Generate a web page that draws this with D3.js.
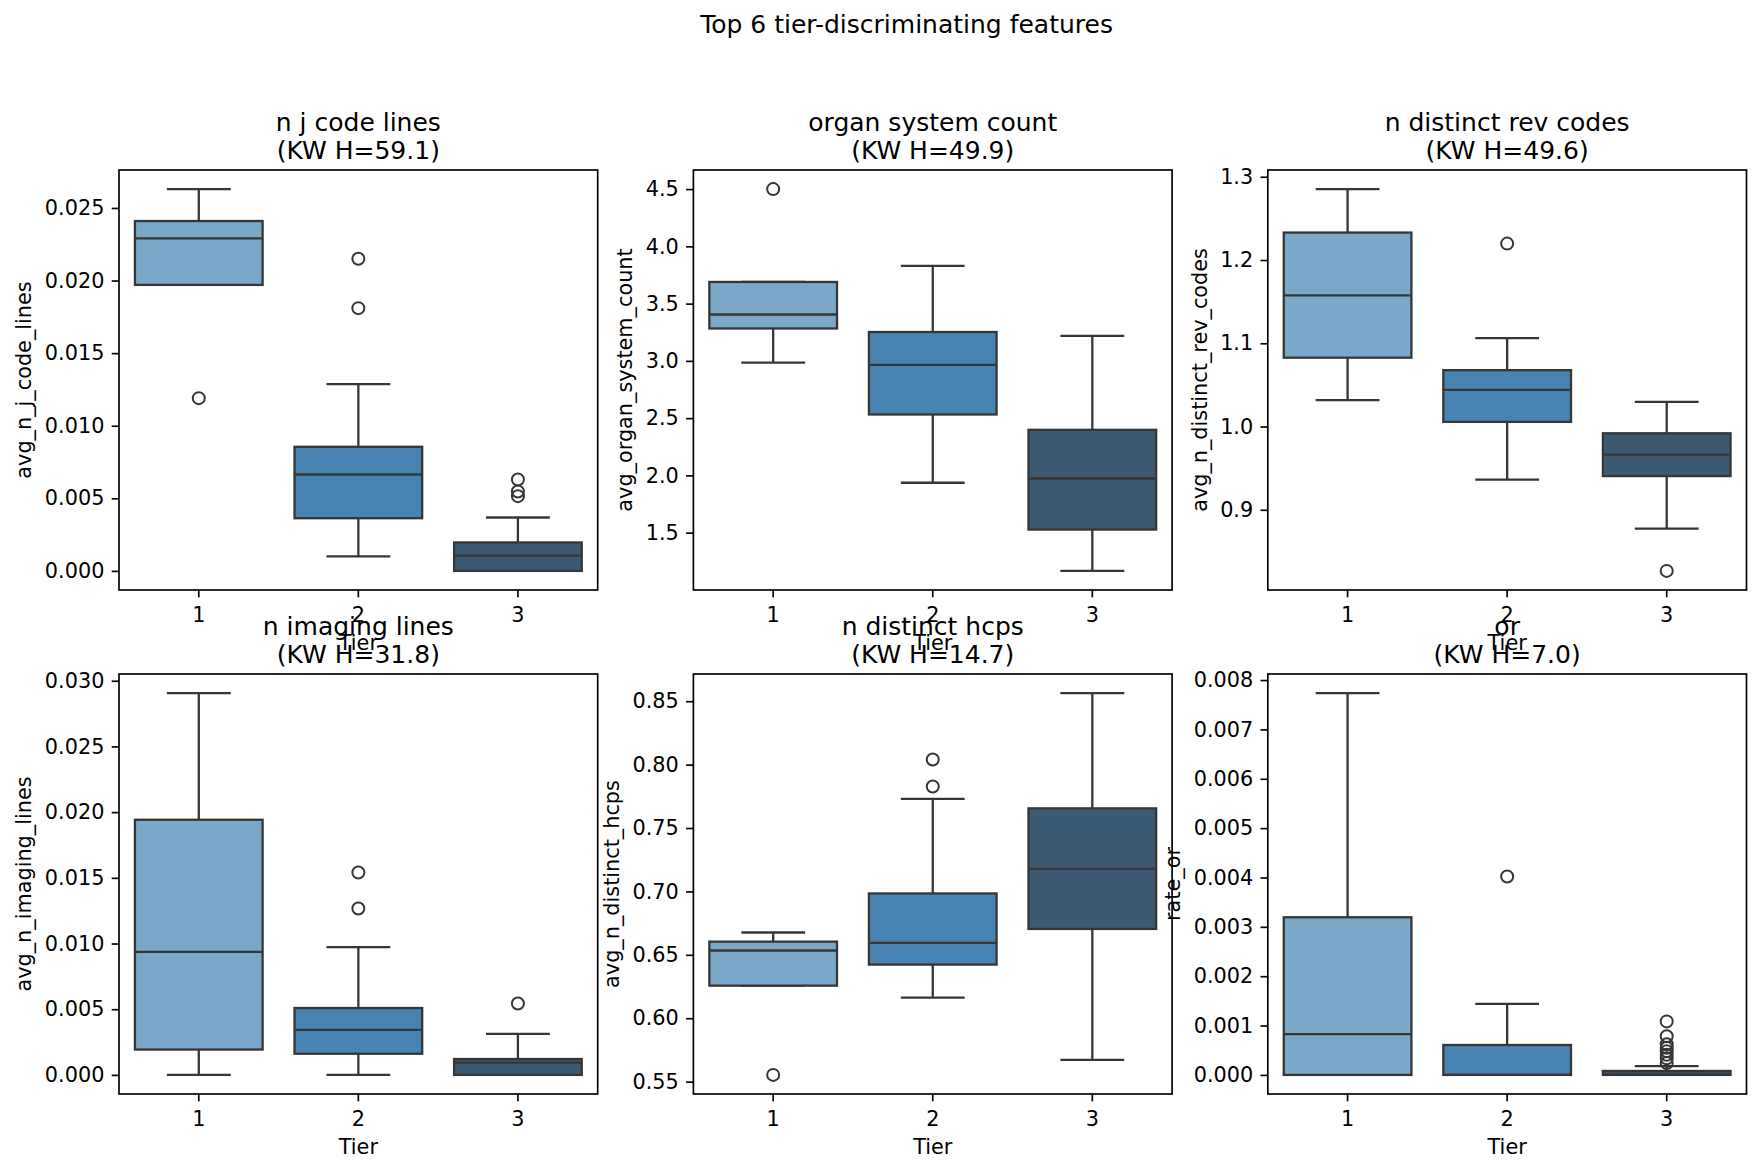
<!DOCTYPE html>
<html>
<head>
<meta charset="utf-8">
<script src="https://cdn.jsdelivr.net/npm/d3@7"></script>
<style>
	body { margin: 0; background: #fff; }
	svg text { font-family: "DejaVu Sans", sans-serif; fill: #000; }
</style>
</head>
<body>
<svg id="chart"></svg>
<script>
	// ---- data ----
	const tiers = [ '1', '2', '3' ];
	const featureNames = [ 'n j code lines', 'organ system count', 'n distinct rev codes', 'n imaging lines', 'n distinct hcps', 'or' ];
	const kwH = [ 59.1, 49.9, 49.6, 31.8, 14.7, 7.0 ];
	const yLabels = [ 'avg_n_j_code_lines', 'avg_organ_system_count', 'avg_n_distinct_rev_codes', 'avg_n_imaging_lines', 'avg_n_distinct_hcps', 'rate_or' ];
	const tierColors = [ '#7ba7c8', '#4884b1', '#3c5a72' ];

	// per feature, per tier
	const whiskerLow = [
		[ 0.0197, 0.0010, 0.0 ],
		[ 2.984, 1.936, 1.166 ],
		[ 1.0317, 0.9362, 0.8775 ],
		[ 0.0, 0.0, 0.0 ],
		[ 0.6257, 0.6163, 0.5672 ],
		[ 0.0, 0.0, 0.0 ]
	];
	const q1 = [
		[ 0.0197, 0.00363, 0.0 ],
		[ 3.283, 2.532, 1.527 ],
		[ 1.0827, 1.0056, 0.9405 ],
		[ 0.00193, 0.00161, 0.0 ],
		[ 0.6257, 0.6423, 0.6704 ],
		[ 0.0, 0.0, 0.0 ]
	];
	const medians = [
		[ 0.0229, 0.00664, 0.00105 ],
		[ 3.405, 2.965, 1.973 ],
		[ 1.1576, 1.0441, 0.9662 ],
		[ 0.00937, 0.00343, 0.00094 ],
		[ 0.6534, 0.6595, 0.7178 ],
		[ 0.000827, 0.0, 0.00001 ]
	];
	const q3 = [
		[ 0.0241, 0.00855, 0.00196 ],
		[ 3.689, 3.252, 2.398 ],
		[ 1.233, 1.0677, 0.9919 ],
		[ 0.01942, 0.00509, 0.00121 ],
		[ 0.6604, 0.6984, 0.7655 ],
		[ 0.003194, 0.000606, 0.00008 ]
	];
	const whiskerHigh = [
		[ 0.0263, 0.01287, 0.00368 ],
		[ 3.689, 3.829, 3.218 ],
		[ 1.2852, 1.1062, 1.0296 ],
		[ 0.02906, 0.00972, 0.00313 ],
		[ 0.6676, 0.773, 0.8564 ],
		[ 0.007736, 0.00144, 0.000178 ]
	];
	const outliers = [
		[ [ 0.0119 ], [ 0.0215, 0.0181 ], [ 0.0063, 0.00547, 0.00515 ] ],
		[ [ 4.5 ], [], [] ],
		[ [], [ 1.2197 ], [ 0.8266 ] ],
		[ [], [ 0.0154, 0.01267 ], [ 0.00544 ] ],
		[ [ 0.5553 ], [ 0.804, 0.7827 ], [] ],
		[ [], [ 0.004021 ], [ 0.001084, 0.000784, 0.00062, 0.000549, 0.000478, 0.000406, 0.000335, 0.000242 ] ]
	];
	const yTicks = [
		[ 0.000, 0.005, 0.010, 0.015, 0.020, 0.025 ],
		[ 1.5, 2.0, 2.5, 3.0, 3.5, 4.0, 4.5 ],
		[ 0.9, 1.0, 1.1, 1.2, 1.3 ],
		[ 0.000, 0.005, 0.010, 0.015, 0.020, 0.025, 0.030 ],
		[ 0.55, 0.60, 0.65, 0.70, 0.75, 0.80, 0.85 ],
		[ 0.000, 0.001, 0.002, 0.003, 0.004, 0.005, 0.006, 0.007, 0.008 ]
	];
	const tickFormats = [ '.3f', '.1f', '.1f', '.3f', '.2f', '.3f' ];

	// ---- layout ----
	const W = 1761, H = 1172,
		left0 = 119, top0 = 170,
		aw = 478.7, ah = 420,
		gapX = 95.7, gapY = 84,
		lineColor = '#363636',
		lw = 2.3;

	let svg = d3.select( '#chart' ).attr( 'width', W ).attr( 'height', H );

	svg.append( 'text' )
		.attr( 'x', W * 0.5148 ).attr( 'y', 33 )
		.attr( 'text-anchor', 'middle' )
		.style( 'font-size', '25px' )
		.text( 'Top 6 tier-discriminating features' );

	featureNames.forEach( function( name, i ) {
		let col = i % 3, row = Math.floor( i / 3 ),
			g = svg.append( 'g' ).attr( 'transform', 'translate(' + ( left0 + col * ( aw + gapX ) ) + ',' + ( top0 + row * ( ah + gapY ) ) + ')' );

		// matplotlib style autoscale: data extent plus 5% margin
		let all = [].concat( whiskerLow[ i ], whiskerHigh[ i ], q1[ i ], q3[ i ], d3.merge( outliers[ i ] ) ),
			ext = d3.extent( all ),
			pad = ( ext[ 1 ] - ext[ 0 ] ) * 0.05;

		let x = d3.scaleBand().domain( tiers ).range( [ 0, aw ] ).paddingInner( 0.2 ).paddingOuter( 0.1 ),
			y = d3.scaleLinear().domain( [ ext[ 0 ] - pad, ext[ 1 ] + pad ] ).range( [ ah, 0 ] );

		let bw = x.bandwidth();

		tiers.forEach( function( t, j ) {
			let cx = x( t ) + bw / 2;

			// whiskers
			g.append( 'line' ).attr( 'x1', cx ).attr( 'x2', cx )
				.attr( 'y1', y( q3[ i ][ j ] ) ).attr( 'y2', y( whiskerHigh[ i ][ j ] ) )
				.style( 'stroke', lineColor ).style( 'stroke-width', lw );
			g.append( 'line' ).attr( 'x1', cx ).attr( 'x2', cx )
				.attr( 'y1', y( q1[ i ][ j ] ) ).attr( 'y2', y( whiskerLow[ i ][ j ] ) )
				.style( 'stroke', lineColor ).style( 'stroke-width', lw );

			// caps
			[ whiskerHigh[ i ][ j ], whiskerLow[ i ][ j ] ].forEach( function( v ) {
				g.append( 'line' ).attr( 'x1', cx - bw / 4 ).attr( 'x2', cx + bw / 4 )
					.attr( 'y1', y( v ) ).attr( 'y2', y( v ) )
					.style( 'stroke', lineColor ).style( 'stroke-width', lw );
			} );

			// box
			g.append( 'rect' )
				.attr( 'x', x( t ) ).attr( 'width', bw )
				.attr( 'y', y( q3[ i ][ j ] ) )
				.attr( 'height', Math.max( 0, y( q1[ i ][ j ] ) - y( q3[ i ][ j ] ) ) )
				.style( 'fill', tierColors[ j ] ).style( 'stroke', lineColor ).style( 'stroke-width', lw );

			// median
			g.append( 'line' ).attr( 'x1', x( t ) ).attr( 'x2', x( t ) + bw )
				.attr( 'y1', y( medians[ i ][ j ] ) ).attr( 'y2', y( medians[ i ][ j ] ) )
				.style( 'stroke', lineColor ).style( 'stroke-width', lw );

			// fliers
			g.selectAll( null ).data( outliers[ i ][ j ] )
				.enter().append( 'circle' )
				.attr( 'cx', cx ).attr( 'cy', d => y( d ) ).attr( 'r', 6 )
				.style( 'fill', 'none' ).style( 'stroke', lineColor ).style( 'stroke-width', 2 );
		} );

		// axes
		let xAxis = g.append( 'g' ).attr( 'transform', 'translate(0,' + ah + ')' )
			.call( d3.axisBottom( x ).tickSize( 7.3 ).tickPadding( 9.5 ) );
		let yAxis = g.append( 'g' )
			.call( d3.axisLeft( y ).tickValues( yTicks[ i ] ).tickFormat( d3.format( tickFormats[ i ] ) ).tickSize( 7.3 ).tickPadding( 7.3 ) );

		[ xAxis, yAxis ].forEach( function( a ) {
			a.select( '.domain' ).remove();
			a.selectAll( '.tick line' ).style( 'stroke', '#000' ).style( 'stroke-width', 1.67 );
			a.selectAll( '.tick text' ).style( 'font-size', '20.8px' ).style( 'fill', '#000' ).attr( 'font-family', null );
		} );
		xAxis.selectAll( '.tick text' ).attr( 'dy', '0.71em' );

		// frame
		g.append( 'rect' ).attr( 'width', aw ).attr( 'height', ah )
			.style( 'fill', 'none' ).style( 'stroke', '#000' ).style( 'stroke-width', 1.67 );

		// labels
		let maxTickW = d3.max( yAxis.selectAll( '.tick text' ).nodes(), n => n.getComputedTextLength() );

		g.append( 'text' )
			.attr( 'transform', 'translate(' + ( -14.6 - maxTickW - 13.5 ) + ',' + ( ah / 2 ) + ') rotate(-90)' )
			.attr( 'text-anchor', 'middle' )
			.style( 'font-size', '20.8px' )
			.text( yLabels[ i ] );

		g.append( 'text' )
			.attr( 'x', aw / 2 ).attr( 'y', ah + 60 )
			.attr( 'text-anchor', 'middle' )
			.style( 'font-size', '20.8px' )
			.text( 'Tier' );

		let title = g.append( 'text' ).attr( 'text-anchor', 'middle' ).style( 'font-size', '25px' );
		title.append( 'tspan' ).attr( 'x', aw / 2 ).attr( 'y', -39 ).text( name );
		title.append( 'tspan' ).attr( 'x', aw / 2 ).attr( 'y', -11.5 ).text( '(KW H=' + kwH[ i ].toFixed( 1 ) + ')' );
	} );
</script>
</body>
</html>
